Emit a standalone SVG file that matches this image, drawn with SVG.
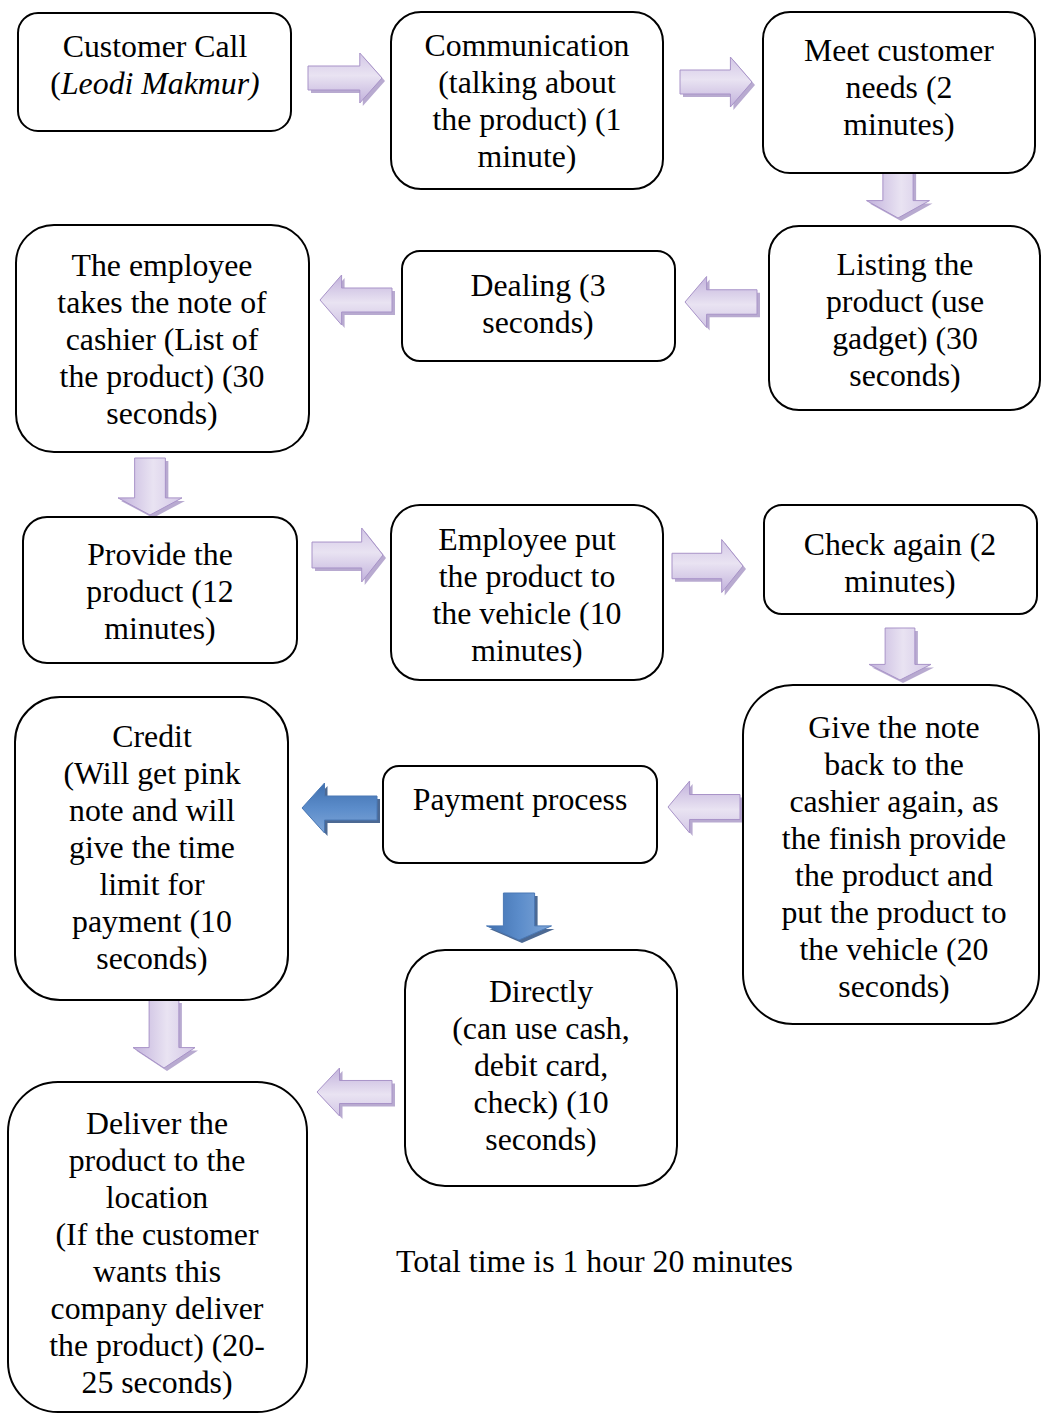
<svg xmlns="http://www.w3.org/2000/svg" width="1041" height="1414" viewBox="0 0 1041 1414">
  <style>
    .box { fill: #ffffff; stroke: #000000; stroke-width: 2; }
    .t { font-family: "Liberation Serif", "Times New Roman", serif; font-size: 31.8px; fill: #000000; text-anchor: middle; }
    .tl { font-family: "Liberation Serif", "Times New Roman", serif; font-size: 31.8px; fill: #000000; }
    .lav { fill: url(#lavGrad); stroke: #a893c8; stroke-width: 1; }
    .lavShadow { fill: #a08dc0; opacity: 0.75; }
    .blue { fill: url(#blueGrad); stroke: #4a78b5; stroke-width: 1; }
    .blueShadow { fill: #2d4f80; opacity: 0.85; }
  </style>
  <defs>
    <linearGradient id="lavGrad" x1="0" y1="0" x2="0" y2="1">
      <stop offset="0" stop-color="#d3c7e6"/>
      <stop offset="0.45" stop-color="#e9e3f2"/>
      <stop offset="1" stop-color="#c2b2dc"/>
    </linearGradient>
    <linearGradient id="blueGrad" x1="0" y1="0" x2="0" y2="1">
      <stop offset="0" stop-color="#7fa6d8"/>
      <stop offset="0.5" stop-color="#5b8cca"/>
      <stop offset="1" stop-color="#3f6fae"/>
    </linearGradient>
    <!-- unit block arrow pointing right, tail centred at origin, 100 x 100 -->
    <path id="arrow" d="M0,-24 H70 V-50 L100,0 L70,50 V24 H0 Z" vector-effect="non-scaling-stroke"/>
  </defs>

  <g id="connectors">
    <!-- Customer Call -> Communication -->
    <use href="#arrow" class="lavShadow" transform="translate(311,81) scale(0.74,0.5)"/>
    <use href="#arrow" class="lav" transform="translate(308,78) scale(0.74,0.5)"/>
    <!-- Communication -> Meet customer needs -->
    <use href="#arrow" class="lavShadow" transform="translate(683,85) scale(0.72,0.5)"/>
    <use href="#arrow" class="lav" transform="translate(680,82) scale(0.72,0.5)"/>
    <!-- Meet customer needs -> Listing -->
    <use href="#arrow" class="lavShadow" transform="translate(901,163) rotate(90) scale(0.58,0.63)"/>
    <use href="#arrow" class="lav" transform="translate(898,160) rotate(90) scale(0.58,0.63)"/>
    <!-- Listing -> Dealing -->
    <use href="#arrow" class="lavShadow" transform="translate(760,305) rotate(180) scale(0.72,0.51)"/>
    <use href="#arrow" class="lav" transform="translate(757,302) rotate(180) scale(0.72,0.51)"/>
    <!-- Dealing -> employee note -->
    <use href="#arrow" class="lavShadow" transform="translate(395,303) rotate(180) scale(0.72,0.5)"/>
    <use href="#arrow" class="lav" transform="translate(392,300) rotate(180) scale(0.72,0.5)"/>
    <!-- employee note -> Provide -->
    <use href="#arrow" class="lavShadow" transform="translate(153,461) rotate(90) scale(0.57,0.64)"/>
    <use href="#arrow" class="lav" transform="translate(150,458) rotate(90) scale(0.57,0.64)"/>
    <!-- Provide -> Employee put -->
    <use href="#arrow" class="lavShadow" transform="translate(315,558) scale(0.71,0.54)"/>
    <use href="#arrow" class="lav" transform="translate(312,555) scale(0.71,0.54)"/>
    <!-- Employee put -> Check again -->
    <use href="#arrow" class="lavShadow" transform="translate(675,569) scale(0.71,0.53)"/>
    <use href="#arrow" class="lav" transform="translate(672,566) scale(0.71,0.53)"/>
    <!-- Check again -> Give the note -->
    <use href="#arrow" class="lavShadow" transform="translate(903,631) rotate(90) scale(0.52,0.62)"/>
    <use href="#arrow" class="lav" transform="translate(900,628) rotate(90) scale(0.52,0.62)"/>
    <!-- Give the note -> Payment process -->
    <use href="#arrow" class="lavShadow" transform="translate(743,810) rotate(180) scale(0.72,0.52)"/>
    <use href="#arrow" class="lav" transform="translate(740,807) rotate(180) scale(0.72,0.52)"/>
    <!-- Payment process -> Credit -->
    <use href="#arrow" class="blueShadow" transform="translate(380,811) rotate(180) scale(0.75,0.5)"/>
    <use href="#arrow" class="blue" transform="translate(377,808) rotate(180) scale(0.75,0.5)"/>
    <!-- Payment process -> Directly -->
    <use href="#arrow" class="blueShadow" transform="translate(522,896) rotate(90) scale(0.47,0.65)"/>
    <use href="#arrow" class="blue" transform="translate(519,893) rotate(90) scale(0.47,0.65)"/>
    <!-- Credit -> Deliver -->
    <use href="#arrow" class="lavShadow" transform="translate(167,1003) rotate(90) scale(0.68,0.62)"/>
    <use href="#arrow" class="lav" transform="translate(164,1000) rotate(90) scale(0.68,0.62)"/>
    <!-- Directly -> Deliver -->
    <use href="#arrow" class="lavShadow" transform="translate(395,1095) rotate(180) scale(0.75,0.48)"/>
    <use href="#arrow" class="lav" transform="translate(392,1092) rotate(180) scale(0.75,0.48)"/>
  </g>

  <g id="customer-call">
    <rect class="box" x="18" y="13" width="273" height="118" rx="20"/>
    <text class="t" x="155" y="57">Customer Call</text>
    <text class="t" x="155" y="94">(<tspan font-style="italic">Leodi Makmur)</tspan></text>
  </g>

  <g id="communication">
    <rect class="box" x="391" y="12" width="272" height="177" rx="30"/>
    <text class="t" x="527" y="56">Communication</text>
    <text class="t" x="527" y="93">(talking about</text>
    <text class="t" x="527" y="130">the product) (1</text>
    <text class="t" x="527" y="167">minute)</text>
  </g>

  <g id="meet-needs">
    <rect class="box" x="763" y="12" width="272" height="161" rx="27"/>
    <text class="t" x="899" y="61">Meet customer</text>
    <text class="t" x="899" y="98">needs (2</text>
    <text class="t" x="899" y="135">minutes)</text>
  </g>

  <g id="listing">
    <rect class="box" x="769" y="226" width="271" height="184" rx="30"/>
    <text class="t" x="905" y="275">Listing the</text>
    <text class="t" x="905" y="312">product (use</text>
    <text class="t" x="905" y="349">gadget) (30</text>
    <text class="t" x="905" y="386">seconds)</text>
  </g>

  <g id="dealing">
    <rect class="box" x="402" y="251" width="273" height="110" rx="18"/>
    <text class="t" x="538" y="296">Dealing (3</text>
    <text class="t" x="538" y="333">seconds)</text>
  </g>

  <g id="employee-note">
    <rect class="box" x="16" y="225" width="293" height="227" rx="38"/>
    <text class="t" x="162" y="276">The employee</text>
    <text class="t" x="162" y="313">takes the note of</text>
    <text class="t" x="162" y="350">cashier (List of</text>
    <text class="t" x="162" y="387">the product) (30</text>
    <text class="t" x="162" y="424">seconds)</text>
  </g>

  <g id="provide">
    <rect class="box" x="23" y="517" width="274" height="146" rx="24"/>
    <text class="t" x="160" y="565">Provide the</text>
    <text class="t" x="160" y="602">product (12</text>
    <text class="t" x="160" y="639">minutes)</text>
  </g>

  <g id="employee-put">
    <rect class="box" x="391" y="505" width="272" height="175" rx="29"/>
    <text class="t" x="527" y="550">Employee put</text>
    <text class="t" x="527" y="587">the product to</text>
    <text class="t" x="527" y="624">the vehicle (10</text>
    <text class="t" x="527" y="661">minutes)</text>
  </g>

  <g id="check-again">
    <rect class="box" x="764" y="505" width="273" height="109" rx="18"/>
    <text class="t" x="900" y="555">Check again (2</text>
    <text class="t" x="900" y="592">minutes)</text>
  </g>

  <g id="give-note">
    <rect class="box" x="743" y="685" width="296" height="339" rx="50"/>
    <text class="t" x="894" y="738">Give the note</text>
    <text class="t" x="894" y="775">back to the</text>
    <text class="t" x="894" y="812">cashier again, as</text>
    <text class="t" x="894" y="849">the finish provide</text>
    <text class="t" x="894" y="886">the product and</text>
    <text class="t" x="894" y="923">put the product to</text>
    <text class="t" x="894" y="960">the vehicle (20</text>
    <text class="t" x="894" y="997">seconds)</text>
  </g>

  <g id="payment">
    <rect class="box" x="383" y="766" width="274" height="97" rx="16"/>
    <text class="t" x="520" y="810">Payment process</text>
  </g>

  <g id="credit">
    <rect class="box" x="15" y="697" width="273" height="303" rx="45"/>
    <text class="t" x="152" y="747">Credit</text>
    <text class="t" x="152" y="784">(Will get pink</text>
    <text class="t" x="152" y="821">note and will</text>
    <text class="t" x="152" y="858">give the time</text>
    <text class="t" x="152" y="895">limit for</text>
    <text class="t" x="152" y="932">payment (10</text>
    <text class="t" x="152" y="969">seconds)</text>
  </g>

  <g id="directly">
    <rect class="box" x="405" y="950" width="272" height="236" rx="40"/>
    <text class="t" x="541" y="1002">Directly</text>
    <text class="t" x="541" y="1039">(can use cash,</text>
    <text class="t" x="541" y="1076">debit card,</text>
    <text class="t" x="541" y="1113">check) (10</text>
    <text class="t" x="541" y="1150">seconds)</text>
  </g>

  <g id="deliver">
    <rect class="box" x="8" y="1082" width="299" height="330" rx="50"/>
    <text class="t" x="157" y="1134">Deliver the</text>
    <text class="t" x="157" y="1171">product to the</text>
    <text class="t" x="157" y="1208">location</text>
    <text class="t" x="157" y="1245">(If the customer</text>
    <text class="t" x="157" y="1282">wants this</text>
    <text class="t" x="157" y="1319">company deliver</text>
    <text class="t" x="157" y="1356">the product) (20-</text>
    <text class="t" x="157" y="1393">25 seconds)</text>
  </g>

  <text class="tl" x="396" y="1272">Total time is 1 hour 20 minutes</text>
</svg>
